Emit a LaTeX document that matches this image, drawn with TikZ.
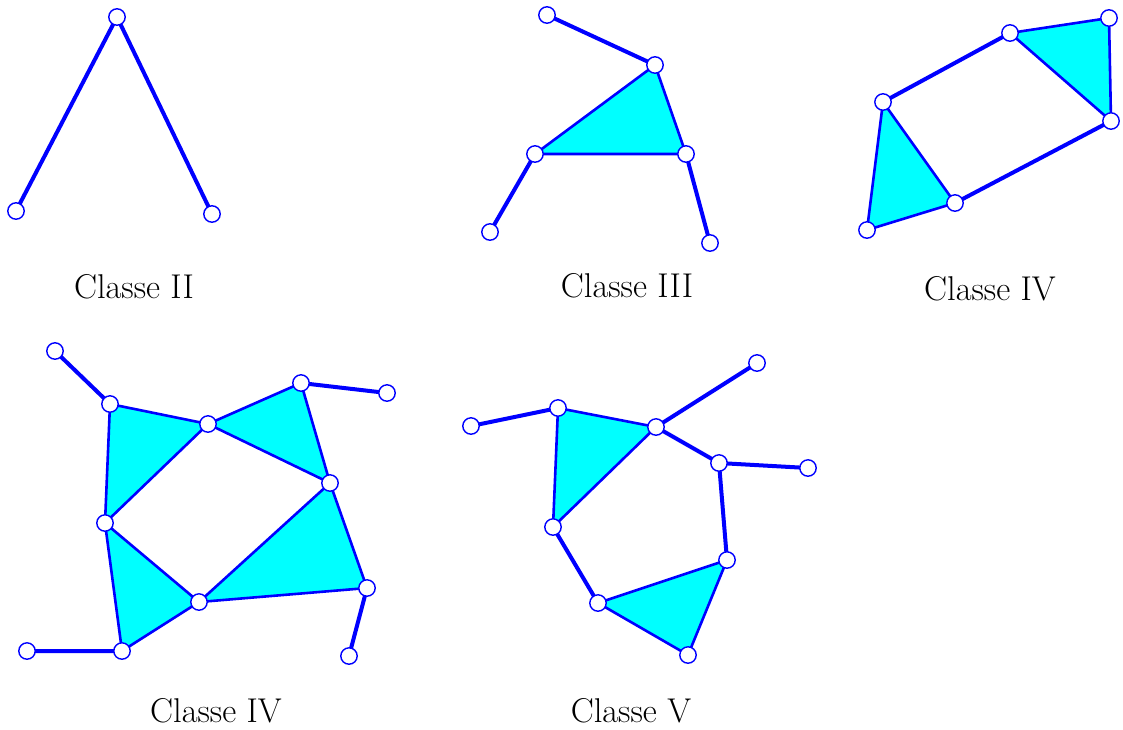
\documentclass[tikz,border=0pt]{standalone}
\definecolor{aqua}{RGB}{0,255,255}
\definecolor{pureblue}{RGB}{0,0,255}
\begin{document}
\begin{tikzpicture}[x=0.5pt,y=-0.5pt,
  vtx/.style={circle,draw=pureblue,fill=white,line width=0.7pt,minimum size=8.2pt,inner sep=0pt},
  pend/.style={draw=pureblue,line width=2pt},
  tri/.style={draw=pureblue,fill=aqua,line width=1.3pt,line join=round},
  lab/.style={font=\fontsize{17.2}{20}\selectfont,inner sep=0pt}]
\useasboundingbox (0,0) rectangle (1123,729);
% ---------- Classe II
\coordinate (a1) at (117,17);
\coordinate (a2) at (16,211);
\coordinate (a3) at (212,214);
\draw[pend] (a2) -- (a1) -- (a3);
\foreach \p in {a1,a2,a3} \node[vtx] at (\p) {};
\node[lab] (la) at (134,287) {Classe II};
% ---------- Classe III
\coordinate (b1) at (547,15);
\coordinate (b2) at (655,65);
\coordinate (b3) at (535,154);
\coordinate (b4) at (686,154);
\coordinate (b5) at (490,232);
\coordinate (b6) at (710,243);
\filldraw[tri] (b2) -- (b3) -- (b4) -- cycle;
\draw[pend] (b1) -- (b2) (b3) -- (b5) (b4) -- (b6);
\foreach \p in {b1,b2,b3,b4,b5,b6} \node[vtx] at (\p) {};
\node[lab] (lb) at (627,286) {Classe III};
% ---------- Classe IV (top)
\coordinate (c1) at (1010,33);
\coordinate (c2) at (1109,18);
\coordinate (c3) at (1111,121);
\coordinate (c4) at (883,102);
\coordinate (c5) at (955,203);
\coordinate (c6) at (867,230);
\filldraw[tri] (c1) -- (c2) -- (c3) -- cycle;
\filldraw[tri] (c4) -- (c5) -- (c6) -- cycle;
\draw[pend] (c4) -- (c1) (c5) -- (c3);
\foreach \p in {c1,c2,c3,c4,c5,c6} \node[vtx] at (\p) {};
\node[lab] (lc) at (990,289) {Classe IV};
% ---------- Classe IV (bottom)
\coordinate (d1) at (55,351);
\coordinate (d2) at (110,404);
\coordinate (d3) at (208,424);
\coordinate (d4) at (301,383);
\coordinate (d5) at (387,393);
\coordinate (d6) at (330,483);
\coordinate (d7) at (105,523);
\coordinate (d8) at (199,602);
\coordinate (d9) at (367,588);
\coordinate (d10) at (349,656);
\coordinate (d11) at (122,651);
\coordinate (d12) at (27,651);
\filldraw[tri] (d2) -- (d3) -- (d7) -- cycle;
\filldraw[tri] (d3) -- (d4) -- (d6) -- cycle;
\filldraw[tri] (d6) -- (d8) -- (d9) -- cycle;
\filldraw[tri] (d7) -- (d8) -- (d11) -- cycle;
\draw[pend] (d1) -- (d2) (d4) -- (d5) (d9) -- (d10) (d11) -- (d12);
\foreach \p in {d1,d2,d3,d4,d5,d6,d7,d8,d9,d10,d11,d12} \node[vtx] at (\p) {};
\node[lab] (ld) at (216,711) {Classe IV};
% ---------- Classe V
\coordinate (e1) at (471,426);
\coordinate (e2) at (558,408);
\coordinate (e3) at (656,427);
\coordinate (e4) at (757,363);
\coordinate (e5) at (719,463);
\coordinate (e6) at (808,468);
\coordinate (e7) at (727,560);
\coordinate (e8) at (598,603);
\coordinate (e9) at (688,655);
\coordinate (e10) at (553,527);
\filldraw[tri] (e2) -- (e3) -- (e10) -- cycle;
\filldraw[tri] (e8) -- (e7) -- (e9) -- cycle;
\draw[pend] (e1) -- (e2) (e3) -- (e4) (e3) -- (e5) (e5) -- (e6) (e5) -- (e7) (e10) -- (e8);
\foreach \p in {e1,e2,e3,e4,e5,e6,e7,e8,e9,e10} \node[vtx] at (\p) {};
\node[lab] (le) at (631,711) {Classe V};
\end{tikzpicture}
\end{document}
